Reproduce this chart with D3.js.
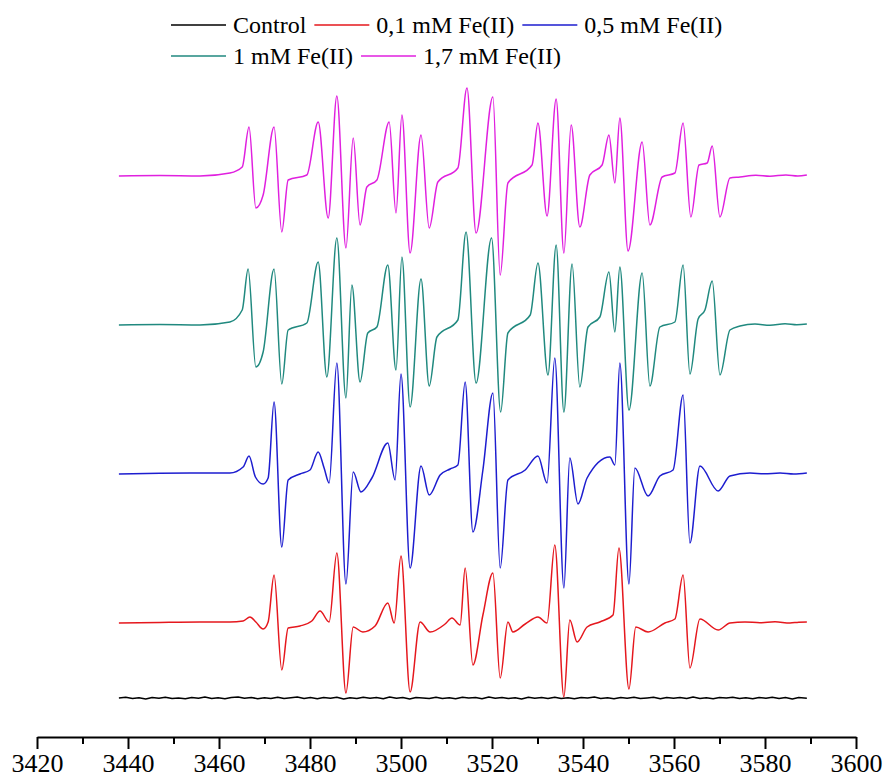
<!DOCTYPE html>
<html>
<head>
<meta charset="utf-8">
<script src="https://cdn.jsdelivr.net/npm/d3@7"></script>
<style>
  html, body { margin: 0; padding: 0; background: #fff; }
  svg { display: block; }
  text { font-family: "Liberation Serif", "Times New Roman", "DejaVu Serif", serif; fill: #000; }
</style>
</head>
<body>
<svg id="chart" width="892" height="780"></svg>
<script>
// ---------------- DATA ----------------
// Magnetic field (G) tick labels
const majorTicks = [3420, 3440, 3460, 3480, 3500, 3520, 3540, 3560, 3580, 3600];
const minorTicks = [3430, 3450, 3470, 3490, 3510, 3530, 3550, 3570, 3590];

const seriesNames = ["Control", "0,1 mM Fe(II)", "0,5 mM Fe(II)", "1 mM Fe(II)", "1,7 mM Fe(II)"];
const seriesColors = ["#000000", "#e5171d", "#1d1dcf", "#20897f", "#e020df"];
// vertical stacking offsets of each spectrum (a.u.)
const seriesOffsets = [37, 112, 261, 410, 559];

// spectra: [field (G), intensity (a.u.)]
const controlSpectrum = [
  [3438.0, 0], [3439.5, 0.7], [3441.0, -0.4], [3442.4, 0.3], [3443.9, -0.9], [3445.3, 0.5],
  [3446.8, -0.2], [3448.2, 0.8], [3449.7, -0.6], [3451.1, 0.1], [3452.6, -0.7], [3454.0, 0.6],
  [3455.5, -0.3], [3456.9, 0.9], [3458.4, -0.5], [3459.8, 0.2], [3461.3, -0.8], [3462.7, 0.4],
  [3464.2, 1.0], [3465.6, -0.3], [3467.1, 0.5], [3468.5, -0.7], [3470.0, 0.3], [3471.4, -0.4],
  [3472.9, 0.8], [3474.3, -0.6], [3475.8, 0.2], [3477.2, 0.9], [3478.7, -0.5], [3480.1, 0.4],
  [3481.6, -0.8], [3483.0, 0.6], [3484.5, -0.2], [3485.9, 0.7], [3487.4, -1.0], [3488.8, 0.3],
  [3490.3, -0.4], [3491.7, 0.8], [3493.2, -0.3], [3494.6, 0.5], [3496.1, -0.7], [3497.5, 0.9],
  [3499.0, -0.2], [3500.4, 0.4], [3501.9, -0.9], [3503.3, 0.6], [3504.8, 0.1], [3506.2, -0.6],
  [3507.7, 0.8], [3509.1, -0.4], [3510.6, 0.3], [3512.0, -0.8], [3513.5, 0.7], [3514.9, -0.1],
  [3516.4, 0.5], [3517.8, -0.7], [3519.3, 0.9], [3520.7, -0.3], [3522.2, 0.6], [3523.6, -0.5],
  [3525.1, 0.2], [3526.5, -0.9], [3528.0, 0.7], [3529.4, -0.2], [3530.9, 0.4], [3532.3, -0.6],
  [3533.8, 0.8], [3535.2, -0.4], [3536.7, 0.3], [3538.1, -0.8], [3539.6, 0.6], [3541.0, -0.1],
  [3542.5, 0.9], [3543.9, -0.5], [3545.4, 0.2], [3546.8, -0.7], [3548.3, 0.5], [3549.7, -0.3],
  [3551.2, 0.8], [3552.6, -0.6], [3554.1, 0.1], [3555.5, 0.7], [3557.0, -0.8], [3558.4, 0.4],
  [3559.9, -0.2], [3561.3, 0.6], [3562.8, -0.5], [3564.2, 0.9], [3565.7, -0.4], [3567.1, 0.3],
  [3568.6, -0.7], [3570.0, 0.5], [3571.5, -0.1], [3572.9, 0.8], [3574.4, -0.6], [3575.8, 0.2],
  [3577.3, -0.8], [3578.7, 0.6], [3580.2, -0.3], [3581.6, 0.7], [3583.1, -0.5], [3584.5, 0.4],
  [3586.0, -0.9], [3587.4, 0.5], [3589.2, -0.2]
];

const fe01Spectrum = [
  [3438.0, 0], [3447.0, 0.6], [3455.8, 1], [3462.4, 1], [3465.3, 2], [3466.8, 6], [3468.1, 1],
  [3469.7, -6], [3470.8, 1], [3472.1, 48], [3473.8, -47], [3475.2, -5], [3477.8, -3],
  [3480.4, 2], [3482.2, 12], [3484.2, 1], [3485.9, 70], [3487.9, -70], [3489.5, -4],
  [3491.6, -9], [3494.3, -3], [3497.1, 20], [3498.5, 0], [3500.0, 67], [3502.0, -69],
  [3504.2, 1], [3506.4, -9], [3509.7, -1], [3511.2, 5], [3513.0, -2], [3514.1, 55],
  [3515.8, -42], [3518.0, 8], [3520.2, 50], [3521.8, -55], [3523.5, 1], [3524.6, -9],
  [3527.3, -1], [3530.1, 6], [3532.1, 0], [3533.8, 78], [3535.8, -74], [3537.1, 3],
  [3538.7, -19], [3540.9, -4], [3543.7, 1], [3546.6, 8], [3547.9, 75], [3550.1, -66],
  [3551.6, -4], [3554.3, -9], [3558.0, 0], [3560.2, 4], [3562.0, 48], [3563.5, -45],
  [3565.7, 4], [3569.7, -7], [3572.3, 0], [3575.6, 1], [3578.9, 0.3], [3582.2, 1.2],
  [3585.5, 0], [3587.4, 0.8], [3589.2, 1]
];

const fe05Spectrum = [
  [3438.0, 0], [3447.0, 0.7], [3455.8, 1], [3462.4, 1], [3465.3, 7], [3466.6, 18], [3468.0, -3],
  [3469.7, -10], [3470.8, -4], [3472.1, 72], [3473.8, -73], [3475.2, -6], [3477.8, 0],
  [3480.0, 4], [3481.8, 22], [3483.1, 6], [3484.2, -9], [3485.9, 111], [3487.9, -110],
  [3489.5, 2], [3491.2, -18], [3493.6, -4], [3497.1, 31], [3498.7, -6], [3500.0, 100],
  [3502.0, -94], [3504.4, 8], [3506.2, -21], [3508.6, -1], [3510.8, 5], [3512.5, 9],
  [3514.1, 92], [3515.8, -58], [3518.0, 4], [3520.2, 81], [3521.8, -94], [3523.5, -6],
  [3527.3, 4], [3530.1, 18], [3532.1, -9], [3533.8, 116], [3535.8, -114], [3537.1, 16],
  [3538.9, -30], [3540.9, -4], [3545.9, 17], [3547.0, 9], [3548.1, 111], [3550.1, -110],
  [3551.4, 6], [3554.3, -22], [3556.9, -2], [3559.8, 4], [3562.0, 79], [3563.5, -69],
  [3565.7, 8], [3569.7, -17], [3572.3, -2], [3576.7, 1], [3579.9, 0.2], [3583.3, 1],
  [3586.3, 0], [3589.2, 1]
];

const fe1Spectrum = [
  [3438.0, 0], [3447.0, 0.4], [3455.8, 0], [3462.4, 3], [3465.1, 15], [3466.4, 56],
  [3468.1, -42], [3469.7, -27], [3472.1, 56], [3473.8, -59], [3475.2, -5], [3479.3, 2],
  [3481.8, 63], [3483.7, -52], [3485.9, 87], [3487.9, -73], [3489.2, 40], [3491.0, -57],
  [3492.7, -8], [3494.7, -2], [3497.1, 60], [3498.9, -45], [3500.2, 68], [3502.0, -82],
  [3504.4, 46], [3506.2, -61], [3507.9, -12], [3512.5, 5], [3514.3, 93], [3516.5, -58],
  [3519.9, 87], [3521.9, -87], [3523.5, -8], [3528.4, 10], [3530.1, 62], [3532.3, -50],
  [3534.1, 80], [3535.8, -87], [3537.6, 61], [3539.3, -62], [3541.1, -2], [3543.7, 8],
  [3545.7, 53], [3547.0, -7], [3548.1, 58], [3550.1, -85], [3553.0, 52], [3554.7, -61],
  [3556.9, -2], [3560.2, 3], [3562.0, 60], [3563.5, -49], [3565.3, 6], [3566.8, 15],
  [3568.4, 44], [3570.1, -50], [3572.3, -5], [3574.5, -1], [3577.8, 1], [3581.1, -0.3],
  [3584.4, 1.2], [3587.0, 0.2], [3589.2, 1]
];

const fe17Spectrum = [
  [3438.0, 0], [3447.0, 0.4], [3455.8, 0], [3462.4, 3], [3465.1, 9], [3466.6, 49],
  [3468.1, -32], [3469.7, -19], [3472.1, 49], [3473.8, -56], [3475.2, -4], [3479.3, 1],
  [3481.8, 54], [3484.0, -42], [3485.9, 80], [3487.9, -72], [3489.5, 38], [3491.0, -49],
  [3492.5, -11], [3494.7, -4], [3497.4, 54], [3498.9, -37], [3500.2, 61], [3502.0, -77],
  [3504.4, 41], [3506.2, -52], [3508.1, -6], [3512.5, 8], [3514.5, 88], [3516.5, -57],
  [3520.2, 79], [3521.8, -99], [3523.5, -7], [3528.8, 11], [3530.1, 53], [3532.1, -40],
  [3534.1, 77], [3535.8, -77], [3537.4, 51], [3539.3, -51], [3541.5, 1], [3544.2, 11],
  [3545.7, 41], [3547.0, -7], [3548.1, 58], [3549.9, -75], [3553.0, 34], [3554.7, -49],
  [3557.4, -1], [3560.2, 3], [3562.0, 53], [3563.7, -41], [3565.5, 11], [3567.3, 13],
  [3568.4, 30], [3570.1, -41], [3572.3, -2], [3574.5, -1], [3578.0, 0.8], [3581.1, -0.2],
  [3584.6, 1], [3587.2, 0], [3589.2, 1]
];

const spectra = [controlSpectrum, fe01Spectrum, fe05Spectrum, fe1Spectrum, fe17Spectrum];

// ---------------- CHART ----------------
const svg = d3.select("#chart");

const x = d3.scaleLinear().domain([3420, 3600]).range([37, 856]);
const y = d3.scaleLinear().domain([0, 735]).range([735, 0]);

const smoothLine = d3.line()
  .x(d => x(d[0]))
  .y(d => y(d[1]))
  .curve(d3.curveMonotoneX);
const noisyLine = d3.line()
  .x(d => x(d[0]))
  .y(d => y(d[1]))
  .curve(d3.curveLinear);

const traces = svg.append("g").attr("class", "traces");
spectra.forEach((s, i) => {
  const off = seriesOffsets[i];
  traces.append("path")
    .datum(s.map(p => [p[0], p[1] + off]))
    .attr("fill", "none")
    .attr("stroke", seriesColors[i])
    .attr("stroke-width", 1.5)
    .attr("stroke-linejoin", "round")
    .attr("d", i === 0 ? noisyLine : smoothLine);
});

// x axis
const axisY = 737;
const gx = svg.append("g").attr("transform", `translate(0,${axisY})`);
gx.call(d3.axisBottom(x).tickValues(majorTicks).tickSize(12).tickSizeOuter(0).tickPadding(5)
  .tickFormat(d3.format("d")));
gx.select(".domain").attr("stroke", "#000").attr("stroke-width", 2);
gx.selectAll(".tick line").attr("stroke", "#000").attr("stroke-width", 2);
gx.selectAll(".tick text")
  .style("font-family", "'Liberation Serif', 'Times New Roman', serif")
  .attr("font-size", 26).attr("fill", "#000");

const gm = svg.append("g").attr("transform", `translate(0,${axisY})`);
gm.call(d3.axisBottom(x).tickValues(minorTicks).tickSize(7).tickSizeOuter(0).tickFormat(""));
gm.select(".domain").remove();
gm.selectAll(".tick line").attr("stroke", "#000").attr("stroke-width", 2);

// legend
const legendRows = [[0, 1, 2], [3, 4]];
const legendRowY = [25, 56];
const legendX0 = 171;
const lineLen = 55;
const legend = svg.append("g").attr("class", "legend");
legendRows.forEach((row, r) => {
  let cx = legendX0;
  row.forEach(i => {
    legend.append("line")
      .attr("x1", cx).attr("x2", cx + lineLen)
      .attr("y1", legendRowY[r]).attr("y2", legendRowY[r])
      .attr("stroke", seriesColors[i]).attr("stroke-width", 1.5);
    const t = legend.append("text")
      .attr("x", cx + lineLen + 7)
      .attr("y", legendRowY[r] + 8)
      .attr("font-size", 24)
      .style("font-family", "'Liberation Serif', 'Times New Roman', serif")
      .text(seriesNames[i]);
    cx += lineLen + 7 + t.node().getComputedTextLength() + 8;
  });
});
</script>
</body>
</html>
